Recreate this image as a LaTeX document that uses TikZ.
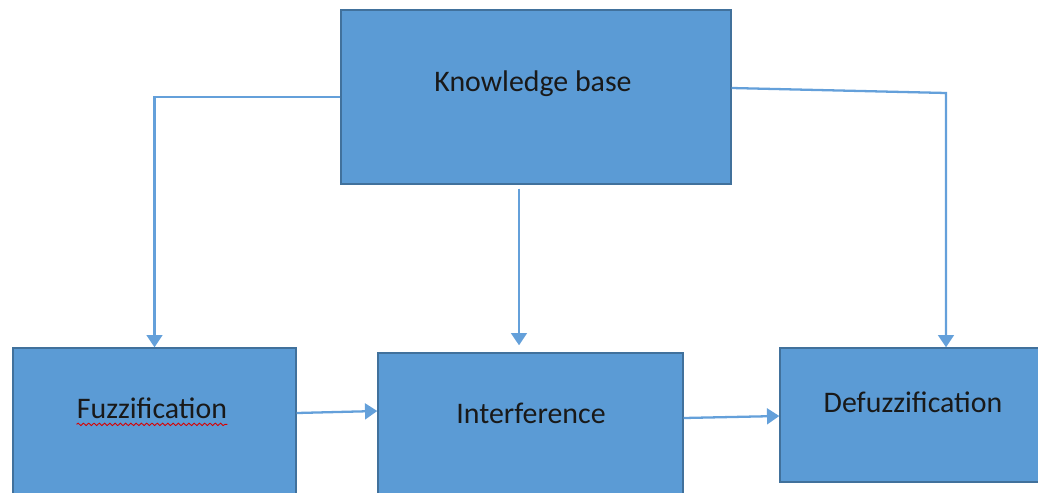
\documentclass[tikz,border=0pt]{standalone}
\usepackage{fontspec}
\setmainfont{Carlito}
\usetikzlibrary{positioning, calc, arrows.meta, decorations.pathmorphing}
\definecolor{boxblue}{RGB}{91,155,213}
\definecolor{boxedge}{RGB}{65,113,156}
\definecolor{linkblue}{RGB}{100,160,218}

\begin{document}
\begin{tikzpicture}[font=\fontsize{17}{20}\selectfont,
  block/.style={rectangle, fill=boxblue, draw=boxedge, line width=0.8pt, inner sep=0pt},
  blocktext/.style={inner sep=0pt, text=black!90},
  link/.style={draw=linkblue, line width=1.3pt, -{Triangle[width=9pt, length=7pt]}}]
  \useasboundingbox (0,0) rectangle (20.76,-9.84);
  \clip (0,0) rectangle (20.76,-9.84);

  % TOP: knowledge base
  \node[block, minimum width=7.8cm, minimum height=3.48cm] (kb) at (10.72,-1.94) {};
  \node[blocktext] (kblbl) at (10.66,-1.68) {Knowledge base};

  % BOTTOM ROW: the three stages (boxes run past the lower edge)
  \node[block, minimum width=5.66cm, minimum height=3.44cm] (fuzz) at (3.09,-8.68) {};
  \node[block, minimum width=6.1cm, minimum height=3.34cm] (inter) at (10.61,-8.73) {};
  \node[block, minimum width=6.64cm, minimum height=2.68cm] (defuzz) at (18.92,-8.30) {};
  \node[blocktext] (fuzzlbl) at (3.04,-8.16) {Fuzzification};
  \node[blocktext] (interlbl) at (10.62,-8.26) {Interference};
  \node[blocktext] (defuzzlbl) at (18.26,-8.04) {Defuzzification};

  % spell-check squiggle under the first label
  \draw[red!85!black, line width=0.5pt, decorate,
        decoration={snake, amplitude=0.7pt, segment length=3pt}]
    ([yshift=-3.5pt]fuzzlbl.base west) -- ([yshift=-3.5pt]fuzzlbl.base east);

  % links from the knowledge base
  \coordinate (bend) at (18.92,-1.86);
  \draw[link] (kb.west) -| (fuzz.north);
  \draw[link] ([shift={(-0.34,-0.08)}]kb.south) -- ([shift={(-0.23,0.14)}]inter.north);
  \draw[link] ([shift={(0,0.18)}]kb.east) -- (bend) -- (defuzz.north);

  % links along the chain
  \draw[link] ([shift={(0,0.42)}]fuzz.east) -- ([shift={(0,0.51)}]inter.west);
  \draw[link] ([shift={(0,0.37)}]inter.east) -- ([shift={(0,-0.02)}]defuzz.west);
\end{tikzpicture}
\end{document}
